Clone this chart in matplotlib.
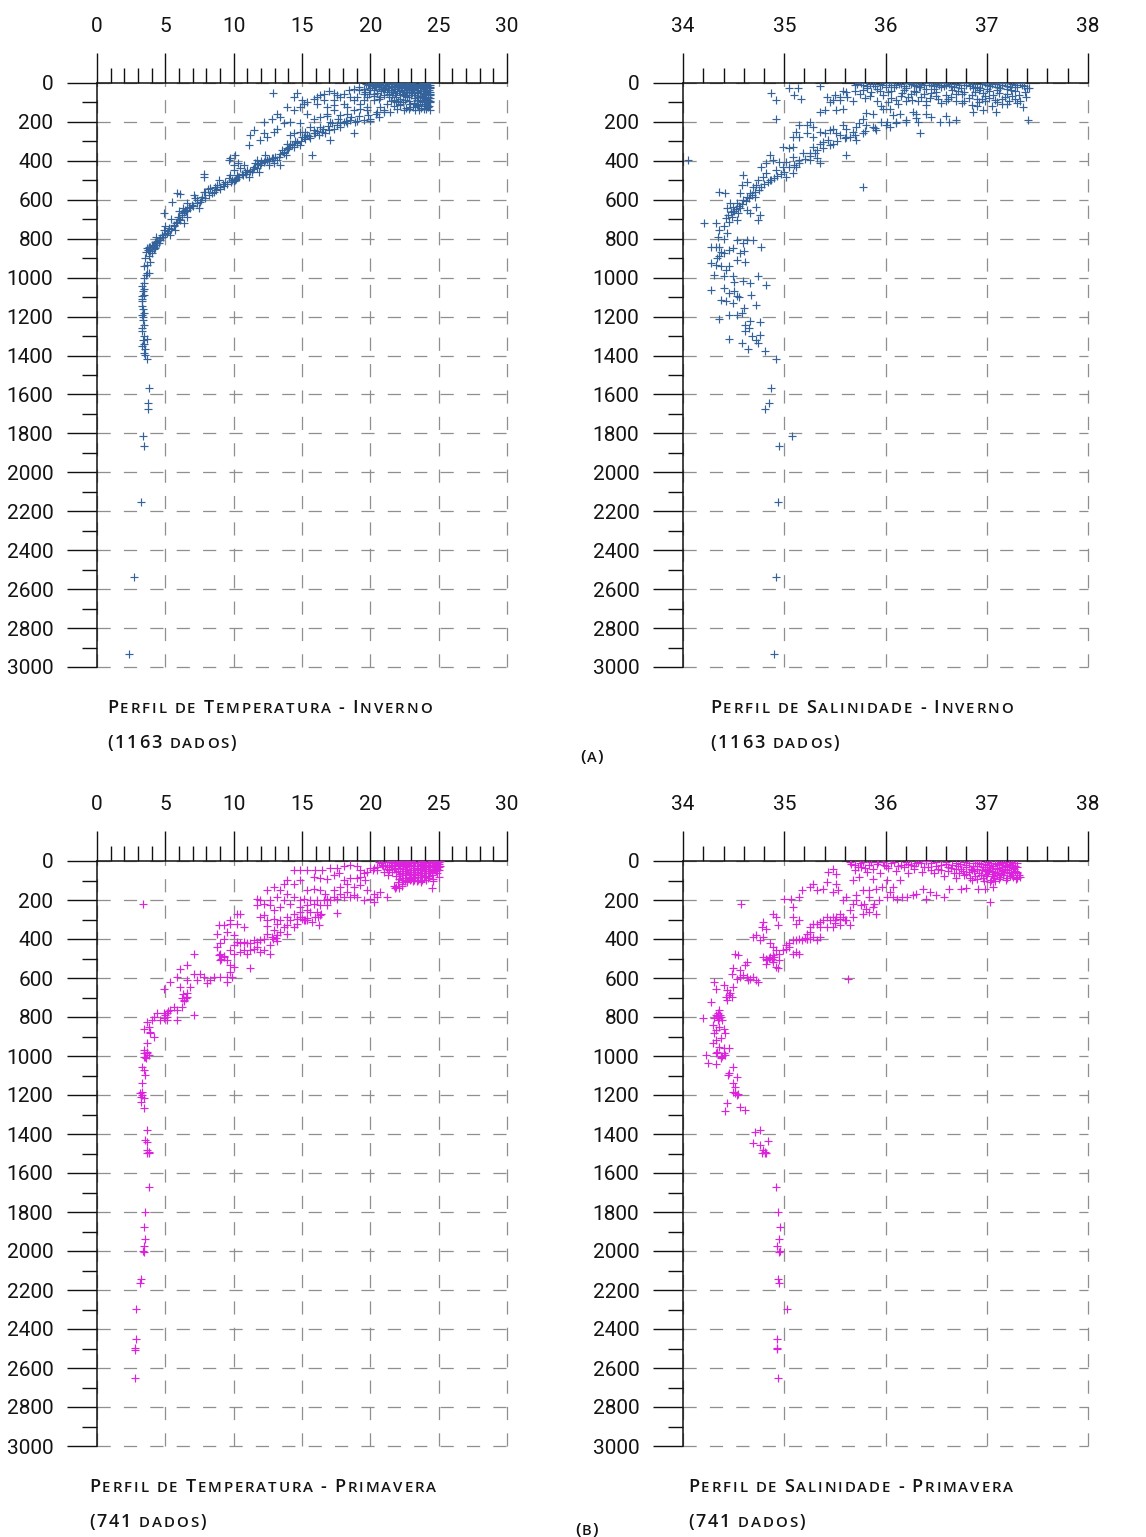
import numpy as np
import matplotlib.pyplot as plt
from matplotlib.ticker import MultipleLocator

# temperatura (°C) - inverno
temp_inverno = [
    # camada de mistura
    (20.1, 5), (20.4, 12), (20.7, 3), (20.9, 18), (21.1, 8), (21.3, 25), (21.5, 4), (21.6, 14),
    (21.8, 30), (21.9, 6), (22.0, 18), (22.2, 10), (22.3, 35), (22.4, 3), (22.5, 22), (22.6, 45),
    (22.7, 12), (22.8, 28), (22.9, 6), (23.0, 38), (23.1, 16), (23.2, 52), (23.3, 8), (23.4, 26),
    (23.5, 70), (23.6, 14), (23.7, 42), (23.8, 4), (23.9, 32), (24.0, 60), (24.1, 20), (24.2, 85),
    (24.3, 10), (24.35, 48), (24.4, 28), (24.4, 100), (24.3, 120), (24.1, 135), (23.9, 110),
    (23.6, 95), (23.3, 78), (23.0, 62), (22.7, 70), (22.4, 55), (22.1, 40), (21.8, 50), (21.5, 38),
    (21.2, 45), (20.9, 30), (20.6, 22), (20.3, 35), (20.0, 25), (19.8, 12), (19.5, 30), (19.2, 20),
    (20.5, 50), (21.0, 60), (21.4, 72), (21.7, 85), (22.0, 95), (22.4, 100), (22.8, 90), (23.2, 105),
    (23.5, 120), (23.8, 88), (24.2, 70), (24.4, 62), (24.0, 40), (23.7, 22), (23.4, 45), (23.1, 30),
    (22.8, 48), (22.5, 65), (22.2, 80), (21.9, 70), (21.6, 62), (21.3, 15), (21.0, 35), (20.8, 42),
    (24.4, 8), (24.2, 2), (24.0, 15), (23.9, 55), (23.5, 35), (23.2, 3), (22.9, 20), (22.6, 8),
    (22.3, 15), (22.0, 2), (21.7, 22), (21.4, 55), (24.3, 38), (24.1, 108), (24.4, 140),
    (24.25, 125), (23.95, 75), (23.75, 100), (23.3, 140), (22.6, 130),
    (19.7, 4), (19.9, 10), (20.2, 2), (20.35, 16), (20.55, 7), (20.75, 12), (20.95, 2), (21.15, 14),
    (21.35, 5), (21.55, 20), (21.75, 2), (21.95, 12), (22.15, 4), (22.35, 24), (22.55, 6),
    (22.75, 18), (22.95, 2), (23.15, 12), (23.35, 20), (23.55, 6), (23.75, 12), (23.95, 2),
    (24.15, 16), (24.38, 18), (24.38, 55), (24.38, 75), (24.38, 90), (24.2, 100), (24.1, 80),
    (24.2, 60), (24.05, 50), (23.85, 40), (23.65, 65), (23.45, 85), (23.25, 60), (23.05, 50),
    (22.85, 62), (22.65, 35), (22.45, 45), (22.25, 28), (21.95, 40), (21.65, 45), (21.35, 35),
    (21.05, 25), (20.75, 30), (20.45, 20), (20.15, 15), (23.6, 50), (23.4, 110), (23.7, 130),
    (24.0, 120), (22.9, 110), (23.1, 125), (24.3, 90), (24.0, 95), (23.8, 70), (22.2, 60),
    (22.55, 85), (21.85, 100), (21.5, 95), (22.15, 115), (22.8, 135), (23.55, 140), (20.3, 65),
    (20.6, 80), (19.9, 55), (19.6, 45),
    # ramo superior
    (12.9, 51), (14.39, 72), (14.63, 51), (15.0, 89), (15.37, 97), (15.85, 80), (16.1, 72),
    (16.34, 63), (16.59, 55), (16.95, 43), (17.32, 51), (17.56, 63), (17.8, 72), (18.05, 55),
    (18.41, 38), (18.78, 29), (19.15, 38), (19.51, 55), (19.76, 72), (18.78, 89), (19.27, 106),
    (19.76, 123), (20.24, 89), (20.73, 72), (18.54, 72), (17.32, 89), (16.1, 106), (16.59, 89),
    (18.05, 106), (19.02, 72), (19.51, 89), (20.24, 55), (20.0, 38), (14.88, 123), (16.83, 123),
    (18.29, 123), (17.32, 114),
    # ramo inferior
    (20.98, 140), (21.46, 149), (21.95, 131), (22.44, 140), (22.93, 123), (23.41, 114),
    (23.9, 131), (24.15, 114), (22.2, 106), (21.71, 119), (21.22, 106), (20.73, 123),
    (18.6, 175), (19.2, 170), (19.8, 165), (20.4, 160), (21.0, 150), (16.8, 170), (17.6, 185),
    (18.2, 195), (18.9, 200), (20.0, 185), (20.6, 175),
    # 100-300 m
    (11.22, 268), (11.1, 319), (11.46, 242), (11.95, 294), (12.2, 259), (12.44, 277), (12.93, 251),
    (13.17, 234), (12.8, 183), (12.2, 200), (13.41, 174), (13.17, 157), (13.66, 208), (13.9, 123),
    (14.15, 200), (14.39, 140), (14.88, 208), (15.12, 106), (15.37, 157), (15.61, 225), (15.85, 183),
    (16.34, 174), (16.83, 157), (17.07, 200), (17.32, 140), (17.8, 166), (18.05, 200), (18.29, 157),
    (18.54, 191), (18.78, 140), (19.02, 194), (19.27, 131), (19.51, 191), (19.76, 140), (20.0, 194),
    (20.49, 149), (18.78, 259), (18.29, 208), (17.8, 225),
    (13.66, 362), (13.9, 336), (14.15, 311), (14.39, 328), (14.63, 302), (14.88, 319), (15.12, 277),
    (15.37, 268), (15.61, 285), (15.98, 259), (16.22, 268), (16.46, 251), (16.71, 259), (16.95, 242),
    (17.07, 294), (17.32, 234), (17.56, 217), (17.8, 208), (15.73, 370), (13.9, 311), (14.15, 268),
    (14.39, 259), (14.88, 251), (15.24, 251), (15.85, 242), (16.34, 225), (14.02, 328), (13.54, 345),
    (15.9, 255), (16.1, 245), (16.5, 235), (16.9, 220), (17.2, 205), (15.5, 270), (15.2, 290),
    (14.9, 300), (14.6, 310), (14.3, 320), (14.5, 300), (15.0, 275), (14.0, 340), (13.7, 355),
    # termoclina
    (11.59, 413), (11.71, 439), (11.83, 456), (11.95, 422), (12.2, 405), (12.44, 393), (12.56, 422),
    (12.8, 387), (13.05, 379), (13.17, 396), (13.41, 422), (12.32, 370), (12.93, 413), (11.71, 396),
    (10.0, 447), (10.12, 498), (10.24, 473), (10.29, 413), (10.0, 422), (10.49, 439), (9.76, 387),
    (9.63, 396), (10.12, 370), (10.73, 422), (11.1, 481), (11.34, 456), (10.85, 456), (9.39, 507),
    (9.63, 490), (9.76, 473), (9.02, 533), (8.9, 498), (8.78, 524), (8.54, 558), (8.29, 541),
    (13.4, 365), (12.9, 385), (12.6, 390), (12.3, 395), (12.0, 400), (11.8, 415), (11.4, 440),
    (11.2, 450), (10.9, 465), (10.7, 475), (10.4, 485), (10.2, 495), (10.0, 505), (9.8, 510),
    (9.5, 520), (9.3, 530), (9.0, 545), (8.7, 550), (8.4, 565), (8.2, 575), (7.9, 590), (7.6, 600),
    (7.3, 615), (7.0, 630), (6.8, 640), (6.6, 650), (6.4, 665), (6.2, 680), (6.0, 700), (5.8, 720),
    (5.6, 735), (5.4, 750), (5.2, 760), (5.0, 775), (4.8, 790), (4.6, 805), (4.5, 820), (4.3, 830),
    (4.2, 845), (4.0, 855),
    (5.85, 563), (6.1, 570), (7.07, 575), (7.32, 601), (7.56, 609), (7.44, 643), (7.68, 584),
    (7.8, 558), (7.8, 468), (7.8, 485), (5.49, 609), (6.71, 635), (6.95, 626), (4.88, 669),
    (5.85, 712), (5.61, 729), (6.1, 703), (5.98, 686), (6.22, 669), (6.46, 652), (6.59, 686),
    (6.34, 720), (5.73, 754), (6.3, 640), (6.5, 660), (6.0, 655), (5.4, 700), (5.9, 690),
    (6.6, 615), (7.2, 590), (7.9, 560), (8.1, 545), (8.6, 535), (9.2, 520), (9.9, 500),
    (10.3, 485), (10.6, 470), (11.0, 445), (11.5, 430), (12.0, 410), (12.6, 400), (13.3, 380),
    (13.8, 370),
    (4.88, 754), (5.0, 737), (5.24, 746), (5.37, 780), (5.12, 772), (4.76, 780), (4.63, 797),
    (4.34, 792), (4.51, 806), (4.39, 823), (4.27, 815), (4.02, 831), (4.27, 848), (4.15, 853),
    (3.9, 865), (3.78, 840), (3.66, 848), (4.02, 874), (3.7, 860), (3.9, 845), (4.1, 838),
    (3.6, 870), (4.4, 810), (3.5, 900),
    # água intermediária
    (3.8, 891), (3.9, 917), (3.66, 934), (3.46, 942), (3.78, 976), (3.66, 976), (3.56, 985),
    (3.46, 1002), (3.41, 1028), (3.27, 1045), (3.37, 1070), (3.41, 1087), (3.27, 1096),
    (3.32, 1122), (3.27, 1147), (3.46, 1181), (3.29, 1190), (3.37, 1215), (3.41, 1241),
    (3.32, 1275), (3.46, 1301), (3.66, 1314), (3.37, 1318), (3.29, 1352), (3.54, 1369),
    (3.41, 1386), (3.66, 1417), (3.45, 1060), (3.3, 1110), (3.35, 1160), (3.4, 1200),
    (3.3, 1260), (3.45, 1340), (3.5, 1395),
    # fundo
    (3.83, 1568), (3.76, 1645), (3.71, 1676), (3.34, 1812), (3.44, 1863), (3.2, 2151),
    (2.71, 2536), (2.32, 2933),
]

# salinidade - inverno
sal_inverno = [
    (35.72, 3), (35.78, 10), (35.85, 5), (35.9, 15), (35.95, 4), (36.0, 20), (36.05, 8), (36.1, 12),
    (36.15, 3), (36.2, 25), (36.25, 6), (36.3, 16), (36.35, 4), (36.4, 30), (36.45, 10), (36.5, 5),
    (36.55, 20), (36.6, 8), (36.65, 14), (36.7, 3), (36.75, 25), (36.8, 10), (36.85, 5), (36.9, 18),
    (36.95, 6), (37.0, 12), (37.05, 3), (37.1, 22), (37.15, 8), (37.2, 15), (37.25, 4), (37.3, 20),
    (37.35, 10), (37.4, 28), (37.38, 45), (37.32, 60), (37.28, 80), (37.22, 95), (37.18, 70),
    (37.12, 50), (37.08, 88), (37.02, 40), (36.98, 65), (36.92, 100), (36.88, 45), (36.82, 75),
    (36.76, 55), (36.7, 90), (36.66, 35), (36.6, 60), (36.55, 105), (36.5, 45), (36.44, 75),
    (36.38, 55), (36.32, 95), (36.28, 40), (36.22, 70), (36.16, 50), (36.1, 85), (36.05, 40),
    (35.98, 60), (35.92, 95), (35.86, 45), (35.8, 75), (35.75, 55), (35.68, 95), (35.62, 70),
    (35.55, 85), (35.5, 60), (35.45, 100), (35.58, 40), (35.92, 30), (36.18, 35), (36.48, 30),
    (36.72, 40), (37.0, 30), (37.24, 35), (37.15, 110), (37.05, 120), (36.95, 80), (36.85, 115),
    (36.78, 90), (36.62, 80), (36.4, 115), (36.26, 85), (36.12, 110), (36.02, 100), (35.96, 120),
    (36.34, 20), (36.58, 2), (36.86, 28), (37.12, 2), (37.28, 40), (36.02, 45), (35.82, 25),
    (36.5, 65), (36.96, 50), (37.2, 55),
    (35.7, 8), (35.76, 2), (35.82, 14), (35.88, 3), (35.97, 10), (36.03, 2), (36.08, 18),
    (36.13, 7), (36.18, 14), (36.23, 2), (36.28, 10), (36.33, 22), (36.38, 8), (36.43, 2),
    (36.48, 16), (36.53, 9), (36.58, 15), (36.63, 3), (36.68, 20), (36.73, 8), (36.78, 2),
    (36.83, 15), (36.88, 6), (36.93, 24), (36.98, 2), (37.03, 16), (37.08, 6), (37.13, 28),
    (37.18, 2), (37.23, 22), (37.28, 8), (37.33, 2), (37.37, 16), (37.2, 32), (37.1, 35),
    (37.06, 60), (37.15, 80), (37.25, 65), (36.98, 95), (36.85, 60), (36.9, 80), (36.7, 55),
    (36.6, 95), (36.52, 80), (36.45, 50), (36.35, 70), (36.3, 45), (36.2, 90), (36.15, 65),
    (36.05, 75), (35.95, 40), (35.85, 65), (35.78, 35), (36.78, 45), (36.92, 35), (37.02, 75),
    (37.3, 105), (37.2, 110), (37.1, 100), (36.9, 120), (36.76, 105), (36.65, 70), (36.4, 90),
    (36.25, 55), (35.7, 40),
    (35.42, 72), (35.48, 89), (35.55, 72), (35.61, 46), (35.35, 149), (35.4, 140), (35.51, 140),
    (35.58, 131),
    (34.87, 51), (34.92, 85), (35.05, 24), (35.1, 60), (35.17, 84), (35.14, 24), (35.35, 17),
    (34.92, 183),
    (37.42, 24), (37.39, 72), (37.36, 123), (37.41, 188), (37.33, 94),
    (36.86, 149), (36.96, 140), (37.09, 149), (36.7, 191), (36.63, 200), (36.54, 200), (36.34, 259),
    (36.4, 157), (36.27, 149), (36.3, 157), (36.32, 200), (36.14, 157), (36.1, 200), (36.2, 200),
    (36.07, 166), (36.04, 225), (35.96, 200), (36.01, 200), (35.98, 131), (36.04, 131), (35.88, 157),
    (35.81, 154), (35.91, 242), (35.88, 225), (35.81, 217), (35.78, 183), (35.74, 208), (35.71, 225),
    (35.61, 234), (35.58, 217), (35.68, 251), (35.78, 259), (35.71, 294), (35.65, 277), (35.61, 277),
    (35.55, 268), (35.51, 259), (35.48, 234), (35.45, 242), (35.4, 259), (35.43, 294), (35.48, 311),
    (35.38, 302), (35.35, 311), (35.28, 328), (35.32, 345), (35.25, 362), (35.35, 251), (35.28, 225),
    (35.25, 200), (35.22, 217), (35.15, 217), (35.12, 251), (35.15, 277), (35.09, 277), (35.22, 259),
    (35.28, 277), (35.32, 387), (35.35, 413), (35.25, 396), (35.19, 362), (35.15, 396), (35.12, 430),
    (35.09, 379), (35.05, 336), (35.09, 328), (35.02, 405), (34.99, 430), (34.95, 405), (35.05, 430),
    (35.09, 464), (35.02, 481), (34.99, 328), (34.89, 396), (34.86, 370), (34.82, 413), (34.92, 447),
    (34.82, 464), (34.86, 498), (34.79, 481), (34.77, 430), (34.74, 498), (34.72, 524), (34.69, 533),
    (34.63, 507), (34.59, 473), (34.58, 524), (34.66, 567), (34.71, 584), (34.63, 584), (34.59, 601),
    (34.56, 567), (34.53, 618), (34.49, 635), (34.46, 618), (34.43, 643), (34.41, 567), (34.36, 558),
    (34.49, 660), (34.54, 669), (34.56, 643), (34.63, 652), (34.66, 669), (34.72, 635), (34.76, 678),
    (34.74, 703), (34.53, 703), (34.48, 686), (34.45, 712), (34.4, 737), (34.33, 720), (34.36, 754),
    (34.43, 772), (34.35, 789), (34.21, 717), (34.36, 840), (34.33, 840), (34.28, 840), (34.4, 874),
    (34.45, 857), (34.49, 848), (34.53, 806), (34.59, 823), (34.63, 806), (34.69, 806), (34.56, 874),
    (34.6, 865), (34.77, 840), (34.36, 891), (34.53, 908), (34.28, 925), (34.33, 934), (34.38, 942),
    (34.45, 942), (34.61, 917), (34.31, 985), (34.4, 993), (34.49, 993), (34.59, 1019), (34.66, 1028),
    (34.74, 993), (34.82, 1036), (34.28, 1062), (34.4, 1053), (34.45, 1079), (34.5, 1070),
    (34.53, 1096), (34.67, 1087), (34.38, 1113), (34.42, 1122), (34.49, 1130), (34.6, 1156),
    (34.72, 1139), (34.45, 1190), (34.53, 1190), (34.36, 1212), (34.61, 1241), (34.66, 1224),
    (34.76, 1229), (34.61, 1275), (34.76, 1297), (34.45, 1314), (34.58, 1335), (34.72, 1318),
    (34.74, 1338), (34.64, 1364), (34.81, 1378), (34.92, 1417),
    (35.0, 455), (34.97, 470), (34.93, 480), (34.9, 490), (34.87, 500), (34.84, 510), (34.8, 520),
    (34.77, 535), (34.75, 550), (34.71, 560), (34.68, 575), (34.65, 590), (34.62, 605), (34.58, 620),
    (34.55, 630), (34.52, 645), (34.5, 655), (34.47, 665), (34.44, 680), (34.42, 695), (35.1, 420),
    (35.15, 410), (35.2, 390), (35.25, 375), (35.3, 360), (35.38, 335), (35.45, 320), (35.52, 300),
    (35.6, 285), (35.7, 265), (35.8, 245), (35.9, 230), (36.0, 215), (36.1, 205), (36.2, 190),
    (36.3, 180), (36.45, 175), (36.6, 170), (34.4, 800), (34.38, 870), (34.34, 900), (34.42, 960),
    (34.5, 1020), (34.55, 1100), (34.58, 1180), (34.65, 1260), (34.68, 1300),
    (34.05, 393), (35.78, 536), (35.61, 370),
    (34.87, 1568), (34.85, 1645), (34.81, 1676), (35.08, 1812), (34.95, 1863), (34.94, 2154),
    (34.92, 2536), (34.9, 2933),
]

# temperatura (°C) - primavera
temp_primavera = [
    (21.2, 5), (21.5, 2), (21.7, 12), (21.9, 4), (22.1, 20), (22.3, 8), (22.5, 3), (22.7, 15),
    (22.9, 6), (23.1, 25), (23.3, 10), (23.5, 4), (23.7, 18), (23.9, 7), (24.1, 30), (24.3, 12),
    (24.5, 4), (24.7, 22), (24.9, 8), (25.1, 2), (25.0, 15), (24.8, 35), (24.6, 45), (24.4, 28),
    (24.2, 50), (24.0, 40), (23.8, 60), (23.6, 35), (23.4, 55), (23.2, 70), (23.0, 45), (22.8, 80),
    (22.6, 60), (22.4, 40), (22.2, 65), (22.0, 50), (21.8, 35), (21.6, 28), (21.4, 45), (22.1, 90),
    (22.5, 100), (22.9, 95), (23.3, 88), (23.7, 100), (23.1, 105), (22.7, 110), (24.3, 75),
    (24.6, 90), (24.9, 60), (25.05, 30), (24.4, 60), (23.9, 80), (23.5, 95), (22.3, 85), (21.9, 75),
    (21.1, 20), (20.8, 12), (20.5, 30), (20.2, 45), (21.0, 55), (21.3, 70), (22.0, 25), (22.4, 18),
    (22.8, 28), (23.2, 35), (23.6, 20), (24.0, 12), (24.4, 20), (24.8, 5), (25.1, 25), (24.7, 10),
    (23.0, 2), (22.6, 30), (23.4, 40), (23.8, 48), (24.2, 8), (24.6, 18), (22.2, 38), (21.6, 58),
    (23.1, 58), (22.5, 72), (23.5, 72), (22.9, 65), (24.1, 95), (23.7, 110), (22.35, 120),
    (21.7, 128), (21.9, 135), (22.1, 140), (22.3, 130), (21.8, 140), (24.5, 140), (24.6, 105),
    (25.0, 80), (24.9, 40), (24.2, 30), (23.9, 25),
    (21.6, 8), (21.8, 18), (22.0, 5), (22.2, 14), (22.4, 25), (22.6, 10), (22.8, 2), (23.0, 20),
    (23.2, 8), (23.4, 28), (23.6, 5), (23.8, 15), (24.0, 25), (24.2, 18), (24.4, 5), (24.6, 30),
    (24.8, 15), (25.0, 5), (24.9, 25), (24.7, 45), (24.5, 55), (24.3, 40), (24.1, 60), (23.9, 50),
    (23.7, 70), (23.5, 45), (23.3, 65), (23.1, 80), (22.9, 55), (22.7, 40), (22.5, 50), (22.3, 60),
    (22.1, 75), (21.9, 55), (21.7, 40), (21.5, 20), (22.6, 85), (23.0, 90), (23.4, 100), (23.8, 95),
    (24.2, 85), (24.5, 70), (24.8, 50), (25.05, 45), (22.8, 70), (23.6, 80), (22.4, 95), (23.2, 95),
    (22.0, 110), (22.7, 100), (23.6, 60), (24.0, 75), (21.4, 30), (21.2, 40), (20.9, 25),
    (20.6, 5), (22.2, 2), (23.8, 2), (24.6, 2),
    (3.37, 222),
    (14.39, 48), (14.88, 44), (15.37, 48), (15.98, 48), (16.46, 44), (17.07, 34), (17.56, 34),
    (18.05, 27), (18.54, 22), (19.02, 24), (15.85, 82), (16.34, 85), (16.83, 94), (17.32, 72),
    (17.68, 63), (18.05, 97), (18.54, 89), (19.02, 89), (19.51, 63), (20.0, 38), (20.24, 34),
    (20.49, 48), (20.85, 22), (19.27, 82), (19.63, 99), (19.76, 55), (19.27, 48),
    (13.9, 99), (13.66, 116), (14.39, 116), (14.88, 99), (12.93, 133), (13.41, 150), (12.44, 150),
    (13.9, 167), (14.39, 184), (13.17, 184), (13.66, 201), (12.68, 201), (11.71, 193), (11.95, 201),
    (12.2, 218), (11.71, 227), (12.68, 227), (12.93, 253), (13.41, 235), (14.15, 218), (14.88, 201),
    (15.37, 150), (15.85, 142), (16.34, 150), (16.71, 167), (17.32, 150), (17.8, 133), (18.29, 116),
    (18.78, 133), (19.27, 125), (19.76, 150), (20.24, 167), (20.73, 159), (21.22, 184), (20.49, 184),
    (20.0, 193), (20.24, 210), (19.51, 201), (19.02, 184), (18.54, 184), (18.05, 184), (17.56, 193),
    (17.07, 201), (16.59, 201), (16.1, 201), (15.61, 201), (15.12, 193), (17.8, 167), (18.29, 159),
    (18.78, 176), (17.32, 184), (16.83, 193), (17.56, 266),
    (14.88, 235), (15.37, 227), (15.85, 218), (16.34, 227), (16.83, 227), (16.1, 261), (16.34, 278),
    (15.98, 287), (15.37, 253), (15.61, 261), (14.88, 261), (14.39, 270), (13.9, 287), (14.15, 304),
    (14.63, 295), (14.88, 287), (15.12, 300), (15.37, 304), (15.73, 312), (16.22, 329), (14.63, 321),
    (14.39, 338), (13.9, 330), (13.66, 338), (13.17, 321), (13.41, 304), (12.93, 295), (12.44, 304),
    (12.2, 278), (11.95, 287), (12.44, 335), (12.93, 355), (13.41, 364), (13.9, 372), (13.17, 381),
    (12.8, 389), (12.44, 372), (12.2, 398), (11.95, 403), (11.71, 415), (11.46, 406), (11.22, 423),
    (10.98, 423), (10.73, 415), (10.49, 423), (12.68, 432), (12.68, 475), (12.2, 457), (11.95, 466),
    (11.71, 440), (11.46, 449), (11.22, 457), (10.98, 475), (10.73, 457), (10.49, 466), (10.0, 475),
    (9.76, 457), (10.0, 432), (10.24, 415), (10.0, 381), (9.51, 364), (9.27, 398), (9.02, 423),
    (8.78, 440), (9.02, 475), (9.27, 492), (9.51, 509), (9.76, 534), (10.0, 543), (9.76, 569),
    (9.51, 594), (9.88, 594), (9.51, 620), (9.02, 594), (8.54, 594), (8.29, 611), (8.05, 628),
    (7.8, 594), (7.56, 577), (7.32, 611), (7.07, 577), (6.83, 645), (6.59, 611), (6.59, 534),
    (7.07, 475), (6.1, 552), (5.85, 594), (5.37, 620), (4.88, 654), (6.1, 645), (6.59, 679),
    (6.34, 713), (6.22, 747), (5.85, 765), (5.61, 747), (5.37, 765), (5.12, 782), (4.88, 782),
    (4.63, 816), (5.12, 816), (5.85, 816), (7.07, 790), (9.76, 304), (10.24, 270), (9.76, 321),
    (10.73, 338), (10.49, 270), (11.22, 551), (10.24, 321), (8.78, 372), (8.9, 330), (9.27, 330),
    (6.3, 680), (6.5, 700), (6.4, 720), (6.2, 705), (6.6, 695), (5.1, 800), (5.0, 790), (4.9, 805),
    (5.2, 770), (8.9, 480), (9.1, 500), (9.0, 510), (9.3, 485), (12.9, 400), (13.1, 395),
    (13.2, 410), (15.0, 295), (15.2, 305), (15.4, 290), (16.2, 285), (16.4, 270),
    (4.15, 799), (4.39, 782), (4.02, 816), (3.66, 825), (3.78, 850), (3.41, 859), (3.9, 876),
    (4.15, 901), (3.9, 884), (3.66, 935), (3.41, 970), (3.66, 987), (3.78, 995), (3.41, 1004),
    (3.61, 1012), (3.41, 987), (3.66, 978), (3.54, 1004), (3.29, 1055), (3.41, 1072), (3.54, 1098),
    (3.29, 1140), (3.29, 1183), (3.17, 1191), (3.29, 1200), (3.25, 1208), (3.41, 1217),
    (3.22, 1234), (3.41, 1268), (3.66, 1379), (3.54, 1431), (3.66, 1439), (3.66, 1482),
    (3.78, 1499), (3.66, 1499), (3.78, 1491),
    (3.78, 1670), (3.54, 1802), (3.41, 1879), (3.54, 1940), (3.46, 1973), (3.41, 2004),
    (3.38, 1998), (3.22, 2145), (3.17, 2166), (2.83, 2299), (2.83, 2450), (2.8, 2497),
    (2.8, 2510), (2.8, 2653),
]

# salinidade - primavera
sal_primavera = [
    (35.65, 5), (35.7, 20), (35.75, 10), (35.8, 35), (35.86, 4), (35.92, 15), (35.98, 6),
    (36.05, 12), (36.2, 5), (36.25, 22), (36.3, 10), (36.32, 3), (36.38, 30), (36.45, 12),
    (36.5, 6), (36.55, 20), (36.6, 4), (36.65, 35), (36.7, 10), (36.72, 25), (36.78, 5), (36.8, 18),
    (36.84, 40), (36.88, 8), (36.9, 28), (36.94, 14), (36.98, 50), (37.0, 4), (37.02, 22),
    (37.05, 35), (37.08, 10), (37.1, 60), (37.12, 18), (37.15, 30), (37.18, 6), (37.2, 45),
    (37.22, 15), (37.25, 70), (37.28, 25), (37.3, 8), (37.27, 40), (37.24, 55), (37.2, 85),
    (37.16, 70), (37.12, 90), (37.08, 100), (37.06, 75), (37.03, 110), (37.0, 65), (36.96, 85),
    (36.92, 60), (36.88, 75), (36.85, 95), (36.82, 55), (36.78, 70), (36.75, 40), (36.7, 85),
    (36.68, 60), (36.62, 50), (36.58, 75), (36.52, 40), (36.48, 60), (36.42, 30), (36.36, 55),
    (36.28, 40), (36.22, 60), (36.18, 30), (36.1, 50), (36.02, 35), (35.95, 60), (35.88, 40),
    (35.82, 55), (35.76, 30), (35.7, 45), (35.93, 3), (36.0, 25), (36.15, 18), (36.4, 2),
    (36.6, 15), (37.0, 30), (37.1, 40), (37.18, 20), (37.26, 12), (37.14, 3), (36.98, 15),
    (36.9, 2), (36.8, 30), (36.66, 22), (37.05, 50), (37.15, 50), (37.22, 30), (37.3, 85),
    (37.3, 60), (36.95, 45),
    (36.74, 15), (36.82, 12), (36.86, 25), (36.9, 40), (36.92, 10), (36.96, 30), (37.0, 18),
    (37.02, 45), (37.04, 8), (37.06, 25), (37.08, 55), (37.1, 15), (37.12, 35), (37.14, 65),
    (37.16, 12), (37.18, 40), (37.2, 25), (37.22, 60), (37.24, 5), (37.26, 35), (37.28, 50),
    (37.3, 30), (37.32, 70), (37.29, 90), (37.26, 80), (37.23, 75), (37.19, 95), (37.17, 55),
    (37.13, 80), (37.1, 70), (37.07, 85), (37.04, 95), (37.01, 55), (36.99, 75), (36.97, 100),
    (36.94, 70), (36.9, 90), (36.87, 50), (36.83, 85), (36.8, 65), (36.77, 50), (36.73, 60),
    (37.0, 40), (37.05, 65), (36.62, 30), (36.55, 45), (36.5, 25), (36.45, 45), (36.35, 10),
    (36.28, 25), (36.22, 15), (36.12, 28), (36.08, 5), (35.99, 18), (35.84, 20), (35.78, 5),
    (35.73, 32), (35.66, 15), (36.7, 40), (36.85, 45), (37.15, 45), (37.25, 20),
    (34.57, 222), (35.63, 603),
    (37.03, 210), (37.33, 82), (37.3, 56), (36.98, 142), (37.06, 133), (36.91, 142), (36.8, 137),
    (36.75, 142), (36.63, 142), (36.58, 184), (36.5, 176), (36.44, 159), (36.4, 193), (36.37, 142),
    (36.3, 167), (36.27, 176), (36.21, 184), (36.16, 184), (36.11, 193), (36.07, 184), (36.04, 159),
    (36.01, 184), (35.94, 201), (35.89, 218), (35.84, 184), (35.79, 218), (35.78, 270), (35.84, 261),
    (35.91, 270), (35.88, 235), (35.81, 244), (35.76, 227), (35.71, 201), (35.68, 218), (35.65, 253),
    (35.68, 287), (35.61, 304), (35.65, 330), (35.58, 287), (35.55, 270), (35.51, 287), (35.48, 287),
    (35.45, 304), (35.42, 287), (35.38, 304), (35.35, 312), (35.32, 321), (35.28, 321), (35.35, 338),
    (35.42, 338), (35.48, 338), (35.55, 330), (35.25, 338), (35.25, 364), (35.22, 372), (35.28, 389),
    (35.32, 406), (35.35, 389), (35.22, 398), (35.18, 406), (35.15, 398), (35.12, 406), (35.09, 406),
    (35.05, 423), (35.02, 432), (35.12, 466), (35.15, 475), (35.09, 475), (35.05, 440), (35.02, 449),
    (34.99, 457), (34.95, 475), (34.92, 457), (34.89, 483), (34.86, 492), (34.82, 500), (34.79, 492),
    (34.95, 509), (34.89, 517), (34.82, 526), (34.92, 543), (34.94, 551), (34.89, 440), (34.86, 423),
    (34.79, 389), (34.76, 406), (34.72, 381), (34.69, 389), (34.82, 347), (34.78, 338), (34.79, 312),
    (34.89, 270), (34.92, 287), (34.94, 330), (35.09, 287), (35.12, 321), (35.15, 304), (35.09, 235),
    (35.07, 193), (35.0, 193), (35.15, 184), (35.18, 150), (35.25, 133), (35.28, 116), (35.32, 150),
    (35.38, 142), (35.42, 108), (35.51, 116), (35.48, 159), (35.53, 150), (35.43, 56), (35.48, 39),
    (35.51, 65), (35.71, 176), (35.61, 184), (35.58, 201), (35.68, 99), (35.78, 150), (35.84, 150),
    (35.91, 142), (35.97, 133), (36.01, 99), (36.07, 133), (36.14, 99), (35.88, 90), (35.74, 82),
    (35.2, 395), (35.22, 402), (35.25, 398), (34.85, 495), (34.88, 505), (34.9, 490), (34.83, 510),
    (35.5, 300), (35.55, 295), (35.6, 305), (35.5, 320),
    (34.51, 475), (34.54, 483), (34.63, 517), (34.61, 534), (34.49, 551), (34.48, 577), (34.56, 594),
    (34.59, 586), (34.63, 594), (34.66, 603), (34.69, 594), (34.72, 611), (34.74, 620), (34.64, 611),
    (34.56, 560), (34.53, 603), (34.31, 620), (34.33, 654), (34.4, 637), (34.43, 662), (34.46, 679),
    (34.48, 696), (34.49, 645), (34.45, 688), (34.42, 696), (34.43, 713), (34.28, 722), (34.36, 765),
    (34.38, 799), (34.33, 790), (34.31, 807), (34.35, 816), (34.39, 816), (34.2, 807), (34.3, 842),
    (34.36, 850), (34.33, 867), (34.4, 859), (34.41, 884), (34.31, 884), (34.33, 918), (34.38, 910),
    (34.3, 935), (34.36, 953), (34.45, 961), (34.4, 961), (34.34, 978), (34.4, 987), (34.38, 1004),
    (34.33, 987), (34.23, 995), (34.25, 1034), (34.33, 1041), (34.49, 1058), (34.45, 1089),
    (34.53, 1106), (34.44, 1098), (34.49, 1140), (34.51, 1157), (34.49, 1183), (34.51, 1191),
    (34.54, 1195), (34.53, 1200), (34.43, 1239), (34.56, 1260), (34.41, 1280), (34.61, 1277),
    (34.71, 1388), (34.76, 1379), (34.69, 1448), (34.76, 1456), (34.84, 1434), (34.79, 1482),
    (34.81, 1499), (34.82, 1496), (34.78, 1496), (34.81, 1491), (34.36, 805), (34.34, 795),
    (34.37, 790), (34.35, 780), (34.39, 1000), (34.41, 995), (34.38, 1010),
    (34.92, 1670), (34.94, 1802), (34.96, 1879), (34.95, 1940), (34.93, 1973), (34.95, 2004),
    (34.96, 1998), (34.94, 2145), (34.95, 2166), (35.03, 2299), (34.93, 2450), (34.93, 2497),
    (34.93, 2503), (34.94, 2653),
]

cor_inverno = '#33639a'
cor_primavera = '#dd22dd'
cor_grade = '#8f8f8f'
cor_texto = '#141414'

plt.rcParams['font.family'] = ['Roboto', 'DejaVu Sans']
plt.rcParams['lines.scale_dashes'] = False

W, H = 1146, 1537
fig = plt.figure(figsize=(W / 100, H / 100), dpi=100)
fig.patch.set_facecolor('white')


def painel(x0, x1, y0, y1, dados, xlim, passo, passo_menor, cor):
    # posição em pixels (origem no canto superior esquerdo)
    ax = fig.add_axes([x0 / W, 1 - y1 / H, (x1 - x0) / W, (y1 - y0) / H])
    ax.set_xlim(*xlim)
    ax.set_ylim(3000, 0)
    ax.xaxis.set_major_locator(MultipleLocator(passo))
    ax.xaxis.set_minor_locator(MultipleLocator(passo_menor))
    ax.yaxis.set_major_locator(MultipleLocator(200))
    ax.yaxis.set_minor_locator(MultipleLocator(100))
    ax.xaxis.tick_top()
    for lado in ('right', 'bottom'):
        ax.spines[lado].set_visible(False)
    for lado in ('left', 'top'):
        ax.spines[lado].set_linewidth(1.1)
        ax.spines[lado].set_color('#111111')
    ax.tick_params(axis='both', which='major', direction='out', length=21.5, width=1.0,
                   color='#111111', labelsize=15, labelcolor=cor_texto)
    ax.tick_params(axis='both', which='minor', direction='out', length=10.5, width=1.0,
                   color='#111111')
    ax.tick_params(axis='x', which='major', pad=12)
    ax.tick_params(axis='y', which='major', pad=10)

    ax.grid(which='major', color=cor_grade, linewidth=0.9, linestyle=(0, (9.5, 9.5)))
    for g in ax.get_xgridlines() + ax.get_ygridlines():
        g.set_clip_on(False)
    ax.set_axisbelow(True)

    arr = np.array(dados)
    ax.plot(arr[:, 0], arr[:, 1], linestyle='none', marker='+', markersize=5.5,
            markeredgewidth=0.85, color=cor, zorder=3)
    return ax


painel(97, 507, 83, 667, temp_inverno, (0, 30), 5, 1, cor_inverno)
painel(683, 1088, 83, 667, sal_inverno, (34, 38), 1, 0.2, cor_inverno)
painel(97, 507, 861, 1446, temp_primavera, (0, 30), 5, 1, cor_primavera)
painel(683, 1088, 861, 1446, sal_primavera, (34, 38), 1, 0.2, cor_primavera)

renderer = fig.canvas.get_renderer()


def versalete(x, y, texto, grande=13, pequeno=10.8, espaco=1.9, branco=6):
    # escreve em versalete: maiúsculas e dígitos no corpo grande, minúsculas viram
    # maiúsculas no corpo pequeno; (x, y) é a linha de base em pixels
    for ch in texto:
        if ch == ' ':
            x += branco
            continue
        if ch.isalpha() and ch.islower():
            letra, corpo = ch.upper(), pequeno
        else:
            letra, corpo = ch, grande
        t = fig.text(x / W, 1 - y / H, letra, fontsize=corpo, family='Open Sans',
                     fontweight='semibold', color=cor_texto, ha='left', va='baseline')
        x += t.get_window_extent(renderer).width + espaco


versalete(107, 713, 'Perfil de Temperatura - Inverno')
versalete(107, 748, '(1163 dados)')
versalete(710, 713, 'Perfil de Salinidade - Inverno')
versalete(710, 748, '(1163 dados)')
versalete(580, 762, '(a)', grande=12.5, pequeno=10.5, espaco=1)

versalete(89, 1492, 'Perfil de Temperatura - Primavera')
versalete(89, 1527, '(741 dados)')
versalete(688, 1492, 'Perfil de Salinidade - Primavera')
versalete(688, 1527, '(741 dados)')
versalete(575, 1535, '(b)', grande=12.5, pequeno=10.5, espaco=1)

fig.savefig('out.png', dpi=100, facecolor='white')
